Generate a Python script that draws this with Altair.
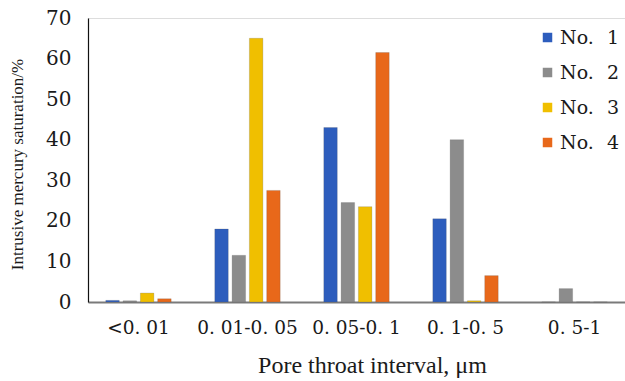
import altair as alt
import pandas as pd

categories = ["<0. 01", "0. 01-0. 05", "0. 05-0. 1", "0. 1-0. 5", "0. 5-1"]
series = ["No.\u2002\u20091", "No.\u2002\u20092", "No.\u2002\u20093", "No.\u2002\u20094"]
no1 = [0.4, 18.0, 43.0, 20.5, 0.0]
no2 = [0.3, 11.5, 24.5, 40.0, 3.3]
no3 = [2.2, 65.0, 23.5, 0.3, 0.0]
no4 = [0.8, 27.5, 61.5, 6.5, 0.0]
colors = ["#2d5dbd", "#8c8c8c", "#f0bf00", "#e8681a"]

rows = []
for s, vals in zip(series, [no1, no2, no3, no4]):
    for c, v in zip(categories, vals):
        rows.append({"interval": c, "sample": s, "value": v})
df = pd.DataFrame(rows)

serif = "Liberation Serif"
wide = "DejaVu Serif"

chart = alt.Chart(df).mark_bar(strokeWidth=0.6, stroke="#555555", strokeOpacity=0.35).encode(
    x=alt.X("interval:N", sort=categories,
            scale=alt.Scale(paddingInner=0.4, paddingOuter=0.163),
            axis=alt.Axis(title="Pore throat interval, μm", labelAngle=0, ticks=False,
                          domainColor="#7a7a7a", domainWidth=2,
                          labelFont=wide, labelFontSize=18.5, labelColor="#1a1a1a",
                          labelPadding=16, titleFont=serif, titleFontSize=24,
                          titleFontWeight="normal", titleColor="#1a1a1a",
                          titleX=284, titleY=70, titleBaseline="alphabetic")),
    xOffset=alt.XOffset("sample:N", sort=series,
                        scale=alt.Scale(paddingInner=0.22, paddingOuter=0)),
    y=alt.Y("value:Q", scale=alt.Scale(domain=[0, 70], nice=False),
            axis=alt.Axis(title="Intrusive mercury saturation/%", values=list(range(0, 71, 10)),
                          grid=False, ticks=False, domainColor="#111111", domainWidth=1.2,
                          labelFont=wide, labelFontSize=20, labelColor="#1a1a1a",
                          labelPadding=17, titleFont=serif, titleFontSize=17,
                          titleFontWeight="normal", titleColor="#1a1a1a",
                          titleX=-71, titleY=146, titleBaseline="middle")),
    color=alt.Color("sample:N", sort=series,
                    scale=alt.Scale(domain=series, range=colors),
                    legend=alt.Legend(title=None, orient="none", legendX=450, legendY=10,
                                      symbolType="square", symbolSize=90, symbolStrokeWidth=0,
                                      labelFont=wide, labelFontSize=19, labelColor="#1a1a1a",
                                      rowPadding=15, labelOffset=3)),
).properties(
    width=537, height=284,
    padding={"left": 88, "top": 18, "right": 0, "bottom": 79},
    autosize=alt.AutoSizeParams(type="none"),
).configure_view(stroke=None).configure(background="white")

chart.save("out.html", embed_options={"renderer": "svg", "actions": False})
